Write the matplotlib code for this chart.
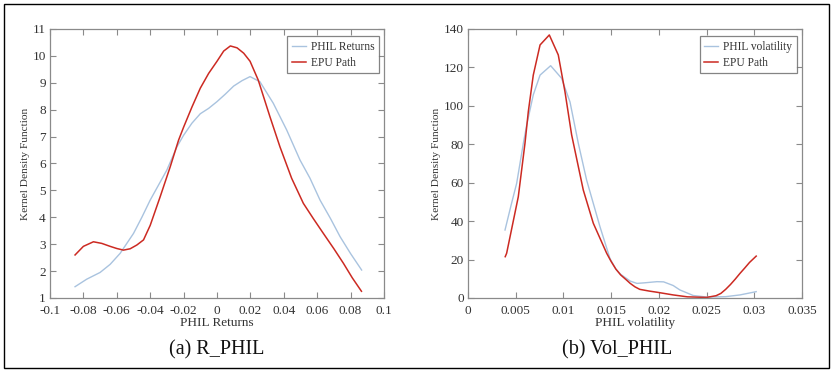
import matplotlib
matplotlib.use("Agg")
import matplotlib.pyplot as plt
from matplotlib.patches import Rectangle
from matplotlib.ticker import FixedLocator

plt.rcParams['font.family'] = ['Liberation Serif', 'DejaVu Serif']

# ---- Panel (a): R_PHIL ----
ret_x_blue = [-0.085, -0.078, -0.070, -0.064, -0.058, -0.050, -0.045, -0.040, -0.035, -0.030,
              -0.024, -0.020, -0.015, -0.010, -0.005, 0.000, 0.005, 0.010, 0.015, 0.0198,
              0.0257, 0.0337, 0.0417, 0.0497, 0.0557, 0.0617, 0.068, 0.0737, 0.080, 0.0866]
ret_y_blue = [1.42, 1.70, 1.95, 2.25, 2.66, 3.40, 4.00, 4.64, 5.20, 5.76,
              6.62, 7.05, 7.50, 7.85, 8.05, 8.30, 8.58, 8.88, 9.08, 9.23,
              9.04, 8.24, 7.25, 6.13, 5.45, 4.64, 3.95, 3.28, 2.65, 2.04]

ret_x_red = [-0.085, -0.080, -0.074, -0.069, -0.064, -0.060, -0.056, -0.052, -0.048, -0.044,
             -0.040, -0.034, -0.028, -0.023, -0.020, -0.015, -0.010, -0.005, 0.000, 0.004,
             0.008, 0.012, 0.016, 0.0198, 0.0247, 0.0317, 0.0377, 0.0447, 0.0517, 0.0577,
             0.0637, 0.070, 0.0757, 0.081, 0.0865]
ret_y_red = [2.60, 2.92, 3.09, 3.03, 2.92, 2.84, 2.78, 2.83, 2.97, 3.16,
             3.70, 4.77, 5.88, 6.87, 7.35, 8.10, 8.80, 9.35, 9.80, 10.18,
             10.37, 10.30, 10.10, 9.80, 9.10, 7.74, 6.62, 5.45, 4.52, 3.95,
             3.40, 2.83, 2.29, 1.75, 1.25]

# ---- Panel (b): Vol_PHIL ----
vol_x_blue = [0.00388, 0.0045, 0.0051, 0.0058, 0.00615, 0.00684, 0.00755, 0.00866, 0.0098, 0.01069,
              0.01156, 0.01243, 0.01383, 0.01488, 0.0155, 0.0160, 0.0166, 0.0170, 0.0177, 0.0185,
              0.0198, 0.0205, 0.0215, 0.0222, 0.0236, 0.0250, 0.0270, 0.0285, 0.0302]
vol_y_blue = [35.4, 48.0, 59.7, 80.5, 90.0, 105.7, 116.0, 120.9, 114.4, 102.0,
              80.5, 61.4, 37.1, 20.5, 15.0, 12.3, 10.2, 8.8, 7.6, 7.9,
              8.5, 8.4, 6.5, 4.2, 1.3, 0.5, 0.7, 1.6, 3.3]

vol_x_red = [0.0039, 0.00405, 0.00527, 0.00597, 0.00632, 0.00684, 0.00755, 0.00852, 0.00946, 0.01016,
             0.01086, 0.01208, 0.01313, 0.01453, 0.0150, 0.0155, 0.0160, 0.0166, 0.0170, 0.0175,
             0.0180, 0.0190, 0.0198, 0.0215, 0.0230, 0.0250, 0.0260, 0.0265, 0.0270, 0.0275,
             0.0280, 0.0285, 0.0290, 0.0295, 0.0302]
vol_y_red = [21.5, 23.3, 52.7, 80.5, 97.0, 116.0, 131.7, 136.9, 126.5, 107.4,
             84.9, 56.2, 38.9, 23.3, 19.0, 15.0, 12.0, 9.4, 7.6, 5.8,
             4.5, 3.6, 3.0, 1.6, 0.6, 0.3, 1.2, 2.4, 4.5, 7.0,
             9.8, 12.8, 15.6, 18.5, 21.8]

BLUE = '#a9c3df'
RED = '#cc2a22'
SPINE = '#8a8a8a'
TXT = '#333333'

fig = plt.figure(figsize=(8.33, 3.75), dpi=100)
W, H = 833, 375

def px_axes(l, t, r, b):
    return fig.add_axes([l / W, 1 - b / H, (r - l) / W, (b - t) / H])

ax1 = px_axes(50, 29, 384, 298)
ax2 = px_axes(468, 29, 802, 298)

def style(ax):
    for s in ax.spines.values():
        s.set_color(SPINE)
        s.set_linewidth(0.9)
    ax.tick_params(direction='in', top=True, right=True, length=4, width=0.8,
                   color=SPINE, labelsize=9.5, labelcolor=TXT)
    ax.tick_params(axis='x', pad=5)
    ax.tick_params(axis='y', pad=3)

ax1.plot(ret_x_blue, ret_y_blue, color=BLUE, lw=1.0, label='PHIL Returns')
ax1.plot(ret_x_red, ret_y_red, color=RED, lw=1.1, label='EPU Path')
ax1.set_xlim(-0.1, 0.1)
ax1.set_ylim(1, 11)
ax1.xaxis.set_major_locator(FixedLocator([-0.1, -0.08, -0.06, -0.04, -0.02, 0, 0.02, 0.04, 0.06, 0.08, 0.1]))
ax1.set_xticklabels(['-0.1', '-0.08', '-0.06', '-0.04', '-0.02', '0', '0.02', '0.04', '0.06', '0.08', '0.1'])
ax1.yaxis.set_major_locator(FixedLocator(list(range(1, 12))))
ax1.set_yticklabels([str(v) for v in range(1, 12)])
style(ax1)
ax1.set_xlabel('PHIL Returns', fontsize=9.5, color=TXT, labelpad=0)
ax1.set_ylabel('Kernel Density Function', fontsize=8.2, color=TXT, labelpad=2)

ax2.plot(vol_x_blue, vol_y_blue, color=BLUE, lw=1.0, label='PHIL volatility')
ax2.plot(vol_x_red, vol_y_red, color=RED, lw=1.1, label='EPU Path')
ax2.set_xlim(0, 0.035)
ax2.set_ylim(0, 140)
ax2.xaxis.set_major_locator(FixedLocator([0, 0.005, 0.01, 0.015, 0.02, 0.025, 0.03, 0.035]))
ax2.set_xticklabels(['0', '0.005', '0.01', '0.015', '0.02', '0.025', '0.03', '0.035'])
ax2.yaxis.set_major_locator(FixedLocator(list(range(0, 141, 20))))
ax2.set_yticklabels([str(v) for v in range(0, 141, 20)])
style(ax2)
ax2.set_xlabel('PHIL volatility', fontsize=9.5, color=TXT, labelpad=0)
ax2.set_ylabel('Kernel Density Function', fontsize=8.2, color=TXT, labelpad=2)

for ax in (ax1, ax2):
    leg = ax.legend(loc='upper right', bbox_to_anchor=(1 - 5 / 334, 1 - 7 / 269),
                    fontsize=8.3, frameon=True, fancybox=False, borderaxespad=0,
                    handlelength=1.2, handletextpad=0.45, borderpad=0.4, labelspacing=0.35,
                    edgecolor='#666666')
    leg.get_frame().set_linewidth(0.9)
    for t in leg.get_texts():
        t.set_color(TXT)

fig.text(217 / W, 1 - 350 / H, '(a) R_PHIL', ha='center', va='center', fontsize=14.5, color='#111111')
fig.text(617 / W, 1 - 350 / H, '(b) Vol_PHIL', ha='center', va='center', fontsize=14.5, color='#111111')

fig.patches.append(Rectangle((4 / W, 1 - 368 / H), (829 - 4) / W, (368 - 4) / H,
                             transform=fig.transFigure, fill=False, edgecolor='black', lw=1.0))

fig.savefig('out.png', dpi=100, facecolor='white')
